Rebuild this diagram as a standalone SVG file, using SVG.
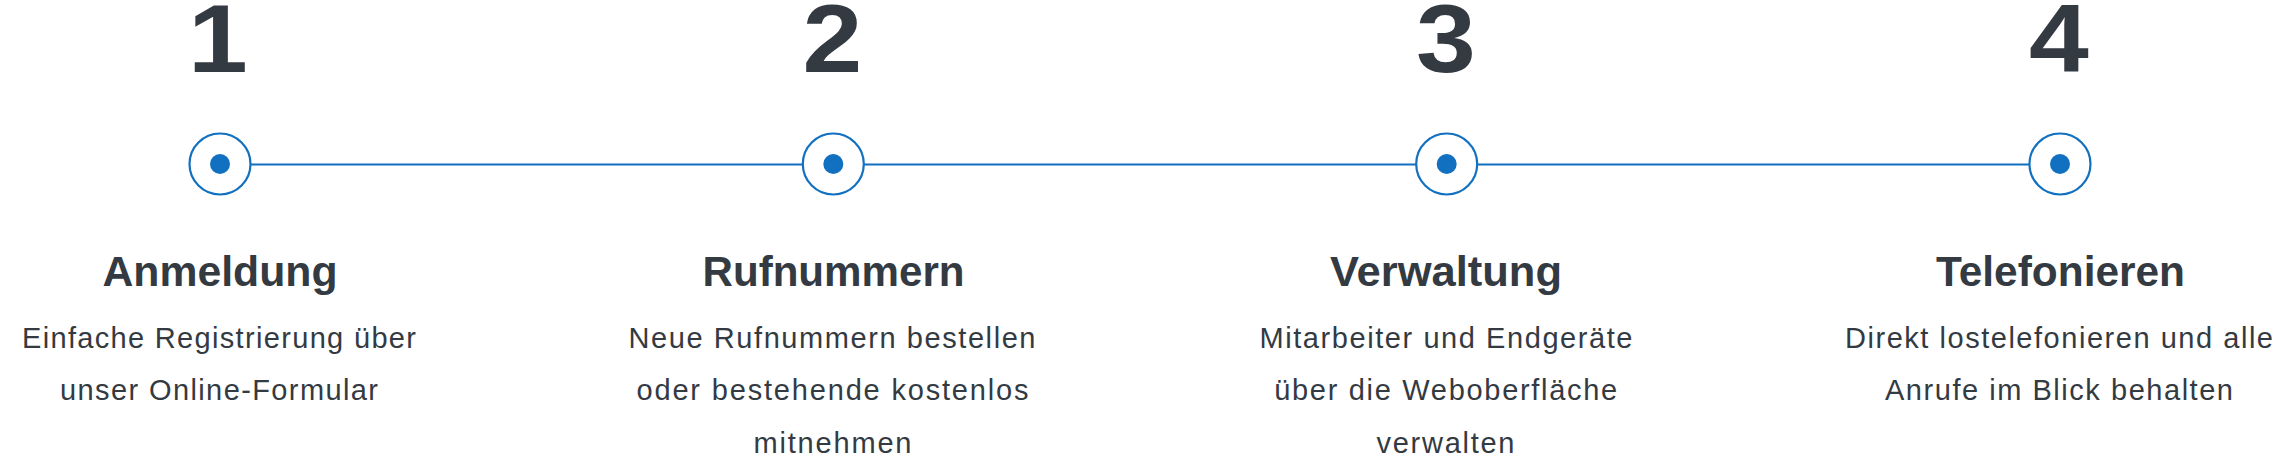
<svg xmlns="http://www.w3.org/2000/svg" width="2280" height="460" viewBox="0 0 2280 460">
<style>
.num{font-family:"Liberation Sans",Arial,sans-serif;font-weight:700;font-size:96px;fill:#343a42;text-anchor:middle}
.title{font-family:"Liberation Sans",Arial,sans-serif;font-weight:700;font-size:43px;fill:#343a42;text-anchor:middle}
.body{font-family:"Liberation Sans",Arial,sans-serif;font-size:29px;fill:#343a42;text-anchor:middle}
.ring{fill:#ffffff;stroke:#1170bf;stroke-width:2.2}
.dot{fill:#1170bf}
.conn{stroke:#1170bf;stroke-width:2.2;fill:none}
</style>
<rect width="2280" height="460" fill="#ffffff"/>
<g id="connectors">
<line class="conn" x1="250" y1="164.5" x2="803" y2="164.5"/>
<line class="conn" x1="864" y1="164.5" x2="1416" y2="164.5"/>
<line class="conn" x1="1477" y1="164.5" x2="2029" y2="164.5"/>
</g>
<g id="step1">
<text class="num" x="0" y="72" transform="translate(218,0) scale(1.12,1)">1</text>
<circle class="ring" cx="220" cy="164" r="30.5"/>
<circle class="dot" cx="220" cy="164" r="10"/>
<text class="title" x="220" y="286" textLength="235" lengthAdjust="spacingAndGlyphs">Anmeldung</text>
<text class="body" x="219" y="348" textLength="394" lengthAdjust="spacing">Einfache Registrierung über</text>
<text class="body" x="219" y="400" textLength="318" lengthAdjust="spacing">unser Online-Formular</text>
</g>
<g id="step2">
<text class="num" x="0" y="72" transform="translate(832.5,0) scale(1.12,1)">2</text>
<circle class="ring" cx="833.3" cy="164" r="30.5"/>
<circle class="dot" cx="833.3" cy="164" r="10"/>
<text class="title" x="833.5" y="286" textLength="262" lengthAdjust="spacingAndGlyphs">Rufnummern</text>
<text class="body" x="832" y="348" textLength="407" lengthAdjust="spacing">Neue Rufnummern bestellen</text>
<text class="body" x="832.5" y="400" textLength="392" lengthAdjust="spacing">oder bestehende kostenlos</text>
<text class="body" x="832.5" y="453" textLength="158" lengthAdjust="spacing">mitnehmen</text>
</g>
<g id="step3">
<text class="num" x="0" y="72" transform="translate(1446,0) scale(1.12,1)">3</text>
<circle class="ring" cx="1446.7" cy="164" r="30.5"/>
<circle class="dot" cx="1446.7" cy="164" r="10"/>
<text class="title" x="1446" y="286" textLength="232" lengthAdjust="spacingAndGlyphs">Verwaltung</text>
<text class="body" x="1446" y="348" textLength="373" lengthAdjust="spacing">Mitarbeiter und Endgeräte</text>
<text class="body" x="1445.7" y="400" textLength="343" lengthAdjust="spacing">über die Weboberfläche</text>
<text class="body" x="1445.5" y="453" textLength="138" lengthAdjust="spacing">verwalten</text>
</g>
<g id="step4">
<text class="num" x="0" y="72" transform="translate(2059,0) scale(1.12,1)">4</text>
<circle class="ring" cx="2060" cy="164" r="30.5"/>
<circle class="dot" cx="2060" cy="164" r="10"/>
<text class="title" x="2060.5" y="286" textLength="249" lengthAdjust="spacingAndGlyphs">Telefonieren</text>
<text class="body" x="2059" y="348" textLength="428" lengthAdjust="spacing">Direkt lostelefonieren und alle</text>
<text class="body" x="2059" y="400" textLength="348" lengthAdjust="spacing">Anrufe im Blick behalten</text>
</g>
</svg>
